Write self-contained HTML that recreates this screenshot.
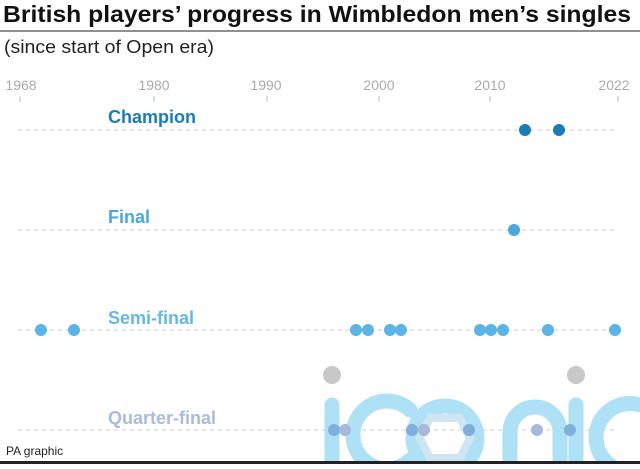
<!DOCTYPE html>
<html><head><style>
body{margin:0;background:#fff;}
</style></head><body>
<svg width="640" height="464" viewBox="0 0 640 464" xmlns="http://www.w3.org/2000/svg" font-family="Liberation Sans, sans-serif">
<rect width="640" height="464" fill="#fff"/>
<text x="3" y="22" font-size="23" font-weight="bold" fill="#111" textLength="628" lengthAdjust="spacingAndGlyphs">British players’ progress in Wimbledon men’s singles</text>
<line x1="0" y1="31" x2="640" y2="31" stroke="#222" stroke-width="1"/>
<text x="4" y="53" font-size="18" fill="#222" textLength="210" lengthAdjust="spacingAndGlyphs">(since start of Open era)</text>
<g font-size="14" fill="#aaa" text-anchor="middle">
<text x="21" y="90">1968</text><text x="154" y="90">1980</text><text x="266" y="90">1990</text>
<text x="379" y="90">2000</text><text x="490" y="90">2010</text><text x="614" y="90">2022</text>
</g>
<g stroke="#bbb" stroke-width="1">
<line x1="20" y1="96" x2="20" y2="102"/><line x1="154" y1="96" x2="154" y2="102"/><line x1="267" y1="96" x2="267" y2="102"/>
<line x1="379" y1="96" x2="379" y2="102"/><line x1="490" y1="96" x2="490" y2="102"/><line x1="618" y1="96" x2="618" y2="102"/>
</g>
<g stroke="#ccc" stroke-dasharray="4,4">
<line x1="18" y1="130" x2="618" y2="130"/><line x1="18" y1="230" x2="618" y2="230"/>
<line x1="18" y1="330" x2="618" y2="330"/><line x1="18" y1="430" x2="618" y2="430"/>
</g>
<g fill="none" stroke="#aee1f6" stroke-width="15" stroke-linecap="round">
<line x1="332" y1="405" x2="332" y2="470"/>
<path d="M410 410 A34 34 0 1 0 410 460"/>
<circle cx="445" cy="438" r="32"/>
<path d="M510 470 V432 A25 25 0 0 1 560 432 V470"/>
<line x1="576" y1="405" x2="576" y2="470"/>
<path d="M640 405 A34 34 0 1 0 640 470"/>
</g>
<polygon points="430,418 460,418 470,438 460,458 430,458 420,438" fill="none" stroke="#cfe6f2" stroke-width="8"/>
<circle cx="332" cy="375" r="9" fill="#c8c8c8"/><circle cx="576" cy="375" r="9" fill="#c8c8c8"/>
<g font-size="18" font-weight="bold">
<text x="108" y="123" fill="#1a7db5">Champion</text>
<text x="108" y="223" fill="#4aa8dc">Final</text>
<text x="108" y="324" fill="#66b8e2">Semi-final</text>
<text x="108" y="424" fill="#a9bcdb">Quarter-final</text>
</g>
<g fill="#1a7db5"><circle cx="525" cy="130" r="6"/><circle cx="559" cy="130" r="6"/></g>
<circle cx="514" cy="230" r="6" fill="#4aa8dc"/>
<g fill="#5ab4e5">
<circle cx="41" cy="330" r="6"/><circle cx="74" cy="330" r="6"/><circle cx="356" cy="330" r="6"/><circle cx="368" cy="330" r="6"/>
<circle cx="390" cy="330" r="6"/><circle cx="401" cy="330" r="6"/><circle cx="480" cy="330" r="6"/><circle cx="491" cy="330" r="6"/>
<circle cx="503" cy="330" r="6"/><circle cx="548" cy="330" r="6"/><circle cx="615" cy="330" r="6"/>
</g>
<g fill="#7fb0db">
<circle cx="334" cy="430" r="6"/><circle cx="412" cy="430" r="6"/><circle cx="469" cy="430" r="6"/><circle cx="570" cy="430" r="6"/>
</g>
<g fill="#a8b8dc">
<circle cx="345" cy="430" r="6"/><circle cx="424" cy="430" r="6"/><circle cx="537" cy="430" r="6"/>
</g>
<text x="6" y="455" font-size="12" fill="#222">PA graphic</text>
<rect x="0" y="461" width="640" height="3" fill="#222"/>
</svg>
</body></html>
